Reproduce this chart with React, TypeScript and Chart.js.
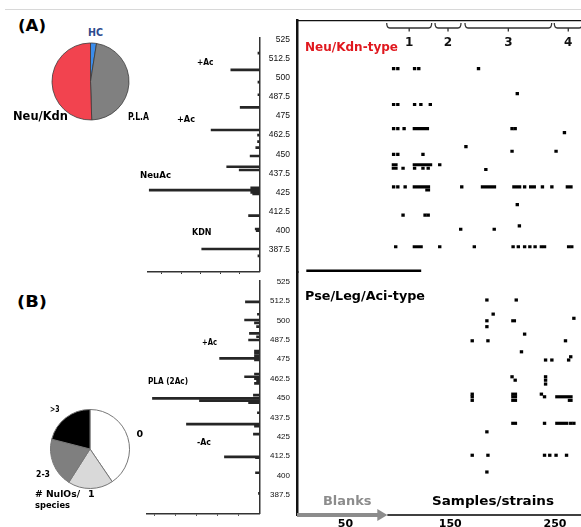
import React, { useEffect, useRef } from 'react';
import { Chart, registerables } from 'chart.js';
Chart.register(...registerables);

// ---------------- DATA ----------------
const pieALabels = ['HC', 'P.L.A', 'Neu/Kdn'];
const pieAValues = [2.5, 47, 50.5];
const pieAColors = ['#3B8DEB', '#808080', '#F2434F'];

const pieBLabels = ['0', '1', '2-3', '>3'];
const pieBValues = [40.5, 18.5, 20, 21];
const pieBColors = ['#FFFFFF', '#D9D9D9', '#7F7F7F', '#000000'];

const mzTicks = [387.5, 400, 412.5, 425, 437.5, 450, 462.5, 475, 487.5, 500, 512.5, 525];
const intensityTicks = [1, 2, 3, 4, 5];

// spectrum (A) Neu/Kdn-type: m/z and relative intensity
const specAMz = [516, 505, 497, 488.8, 480.6, 465.8, 462.5, 458.2, 454.3, 448.8, 441.8, 439.7, 428.1, 426.6, 425.1, 424.0, 409.9, 401.2, 400.1, 388.1, 383.6];
const specAVal = [0.08, 1.47, 0.08, 0.08, 0.99, 2.48, 0.1, 0.1, 0.19, 0.48, 1.68, 1.04, 0.45, 5.65, 0.45, 0.35, 0.56, 0.22, 0.17, 2.96, 0.08];

// spectrum (B) Pse/Leg/Aci-type
const specBMz = [512, 504, 500.3, 498.5, 496, 491.7, 489.5, 487.4, 480.3, 478.8, 477, 475.6, 474.5, 465.5, 463.7, 462.5, 461, 459.4, 451.9, 449.8, 448.3, 447, 440.5, 433.2, 431.9, 426.7, 412.1, 411.5, 401.8, 388.5];
const specBVal = [0.67, 0.1, 0.71, 0.24, 0.14, 0.48, 0.14, 0.52, 0.24, 0.24, 0.24, 1.9, 0.24, 0.24, 0.71, 0.24, 0.14, 0.24, 0.29, 5.1, 2.86, 0.52, 0.1, 3.48, 0.24, 0.29, 1.67, 0.19, 0.19, 0.05];

// heat map (A): per m/z row, detected samples (single sample or [first, last] run)
const neuRowMz = [505, 488.7, 481.6, 465.9, 463.3, 454.1, 451.1, 449.1, 442.3, 440.0, 439.2, 427.9, 425.8, 416.3, 409.4, 402.4, 400.2, 388.8];
const neuRowCells: (number | number[])[][] = [
  [96, 100, 116, 120, 177],
  [214],
  [96, 100, 116, 122, 131],
  [96, 100, 106, [115, 129], 209, 212],
  [259],
  [165],
  [209, 251],
  [96, 100, 124],
  [[95, 99], [115, 132], 140],
  [[95, 99], 105, 116, 124, 129],
  [184],
  [96, 100, 107, [115, 130], 161, [180, 193], [210, 217], 221, [226, 231], 238, 247, [261, 266]],
  [[127, 130]],
  [214],
  [105, 126, 129],
  [216],
  [160, 192],
  [98, [115, 123], 140, 173, 210, 215, 221, 226, 231, 237, 240, 263, 266],
];

// heat map (B)
const pseRowMz = [513.2, 504.1, 501.4, 499.8, 496.0, 491.2, 486.9, 479.8, 476.6, 474.5, 463.7, 461.5, 459.0, 452.5, 450.8, 448.5, 433.7, 428.2, 413.1, 402.3];
const pseRowCells: (number | number[])[][] = [
  [185, 213],
  [191],
  [268],
  [185, [209, 212]],
  [185],
  [221],
  [171, 186, 260],
  [218],
  [265],
  [241, 247, 263],
  [209, 241],
  [212, 241],
  [241],
  [171, [209, 213], 237],
  [171, [209, 213], 240, [251, 266]],
  [171, [209, 213], [263, 266]],
  [[209, 213], 240, [251, 262], 265, 268],
  [185],
  [171, 186, 240, 245, 251, 261],
  [185],
];

const groupNames = ['1', '2', '3', '4'];
const groupStart = [89.4, 135.5, 164.1, 249.3];
const groupEnd = [132.3, 160.3, 246.8, 276];

const sampleTicks = [50, 150, 250];
const blanksEnd = 90;
const separatorMz = 374.5;
const separatorRange = [13, 122];

// ---------------- HELPERS ----------------
const fixBox = (size: number) => (s: any) => {
  if (s.isHorizontal()) s.height = size; else s.width = size;
  s.paddingTop = 0; s.paddingBottom = 0; s.paddingLeft = 0; s.paddingRight = 0;
};

const baseOpts = {
  responsive: false,
  maintainAspectRatio: false,
  animation: false as const,
  devicePixelRatio: 1,
  events: [] as any[],
};

function pieConfig(labels: string[], values: number[], colors: string[], radius: number, borderColor: string, borderWidth: number): any {
  return {
    type: 'pie',
    data: { labels, datasets: [{ data: values, backgroundColor: colors, borderColor, borderWidth, hoverOffset: 0, offset: 0, radius }] },
    options: { ...baseOpts, layout: { padding: 0 }, plugins: { legend: { display: false }, tooltip: { enabled: false } } },
  };
}

function spectrumConfig(mz: number[], val: number[], yMin: number, yMax: number, xMax: number, fontSize: number, tickPad: number, pad: any, xBoxH: number): any {
  return {
    type: 'bar',
    data: { datasets: [{ data: mz.map((m, i) => ({ x: val[i], y: m })), backgroundColor: '#262626', barThickness: 2, borderWidth: 0 }] },
    options: {
      ...baseOpts,
      indexAxis: 'y',
      layout: { padding: pad },
      plugins: { legend: { display: false }, tooltip: { enabled: false } },
      scales: {
        x: {
          type: 'linear', reverse: true, min: 0, max: xMax, position: 'bottom', offset: false,
          afterBuildTicks: (s: any) => { s.ticks = intensityTicks.map((v) => ({ value: v })); },
          ticks: { display: false },
          grid: { display: true, drawOnChartArea: false, drawTicks: true, tickLength: 2.5, color: '#333', lineWidth: 1, offset: false },
          border: { display: true, color: '#333', width: 1.5 },
          afterFit: fixBox(xBoxH),
        },
        y: {
          type: 'linear', position: 'right', min: yMin, max: yMax, offset: false,
          afterBuildTicks: (s: any) => { s.ticks = mzTicks.map((v) => ({ value: v })); },
          ticks: { font: { family: 'Liberation Sans', size: fontSize }, color: '#111', padding: tickPad, crossAlign: 'far', autoSkip: false, callback: (v: any) => String(v) },
          grid: { display: false, drawTicks: false, offset: false },
          border: { display: true, color: '#333', width: 1.5 },
          afterFit: fixBox(30.5),
        },
      },
    },
  };
}

function cellsToBars(rowMz: number[], rowCells: (number | number[])[][]) {
  const out: any[] = [];
  rowMz.forEach((mz, i) => rowCells[i].forEach((c) => {
    const r = Array.isArray(c) ? [c[0] - 0.5, c[1] + 0.5] : [c - 1.3, c + 1.3];
    out.push({ x: r, y: mz });
  }));
  return out;
}

const bracketPlugin = {
  id: 'brackets',
  afterDraw(chart: any) {
    const { ctx, chartArea, scales } = chart;
    const x = scales.x;
    const top = chartArea.top;
    const yTop = top + 2.5, yLine = top + 7.5, yTick = top + 11, yLab = top + 22.5;
    ctx.save();
    ctx.strokeStyle = '#333';
    ctx.lineWidth = 1.3;
    groupNames.forEach((name, i) => {
      const x1 = x.getPixelForValue(groupStart[i]);
      const x2 = x.getPixelForValue(groupEnd[i]);
      const xm = (x1 + x2) / 2;
      ctx.beginPath();
      ctx.moveTo(x1, yTop);
      ctx.quadraticCurveTo(x1, yLine, x1 + 3, yLine);
      ctx.lineTo(x2 - 3, yLine);
      ctx.quadraticCurveTo(x2, yLine, x2, yTop);
      ctx.moveTo(xm, yLine);
      ctx.lineTo(xm, yTick);
      ctx.stroke();
      ctx.fillStyle = '#111';
      ctx.font = 'bold 12px "DejaVu Sans"';
      ctx.textAlign = 'center';
      ctx.textBaseline = 'middle';
      ctx.fillText(name, xm, yLab);
    });
    ctx.restore();
  },
};

const arrowPlugin = {
  id: 'blanksArrow',
  afterDraw(chart: any) {
    const { ctx, chartArea, scales } = chart;
    const x = scales.x;
    const yb = chartArea.bottom;
    const xL = chartArea.left;
    const xE = x.getPixelForValue(blanksEnd);
    ctx.save();
    ctx.fillStyle = '#8C8C8C';
    ctx.fillRect(xL, yb - 2, xE - 9 - xL, 4);
    ctx.beginPath();
    ctx.moveTo(xE - 10, yb - 6);
    ctx.lineTo(xE, yb);
    ctx.lineTo(xE - 10, yb + 6);
    ctx.closePath();
    ctx.fill();
    ctx.strokeStyle = '#000';
    ctx.lineWidth = 1.5;
    ctx.beginPath();
    ctx.moveTo(xE, yb);
    ctx.lineTo(chartArea.right, yb);
    ctx.stroke();
    ctx.restore();
  },
};

function heatConfig(datasets: any[], yMin: number, yMax: number, pad: any, xAxis: any, plugins: any[]): any {
  return {
    type: 'bar',
    data: { datasets },
    options: {
      ...baseOpts,
      indexAxis: 'y',
      layout: { padding: pad },
      plugins: { legend: { display: false }, tooltip: { enabled: false } },
      scales: {
        x: { type: 'linear', min: 3.8, max: 274.8, offset: false, ...xAxis },
        y: {
          type: 'linear', position: 'left', min: yMin, max: yMax, offset: false,
          ticks: { display: false }, grid: { display: false, drawTicks: false },
          border: { display: true, color: '#111', width: 2.5 },
          afterFit: fixBox(0),
        },
      },
    },
    plugins,
  };
}

// ---------------- LABELS ----------------
const measureCtx = typeof document !== 'undefined' ? document.createElement('canvas').getContext('2d') : null;

function Label({ t, x, y, size, w, color = '#000' }: { t: string; x: number; y: number; size: number; w?: number; color?: string }) {
  const font = `bold ${size}px "DejaVu Sans"`;
  let sx = 1;
  if (w && measureCtx) {
    measureCtx.font = font;
    const m = measureCtx.measureText(t).width;
    if (m > 0) sx = w / m;
  }
  return (
    <div style={{ position: 'absolute', left: x, top: y, transform: `translateY(-50%) scaleX(${sx})`, transformOrigin: 'left center', font, lineHeight: 1, color, whiteSpace: 'nowrap' }}>{t}</div>
  );
}

const labels = [
  { t: '(A)', x: 18, y: 26, size: 16, w: 28 },
  { t: 'HC', x: 88, y: 33, size: 10, w: 15, color: '#2D4B8E' },
  { t: 'Neu/Kdn', x: 13, y: 117, size: 11.5, w: 55 },
  { t: 'P.L.A', x: 128, y: 117, size: 10, w: 21 },
  { t: '+Ac', x: 196.5, y: 62, size: 9, w: 16.5 },
  { t: '+Ac', x: 177, y: 119, size: 9, w: 18 },
  { t: 'NeuAc', x: 140, y: 175, size: 9, w: 31 },
  { t: 'KDN', x: 191.5, y: 232, size: 9, w: 19.5 },
  { t: 'Neu/Kdn-type', x: 305, y: 47, size: 12, w: 93, color: '#E0181E' },
  { t: '(B)', x: 17, y: 301.5, size: 16, w: 30 },
  { t: '+Ac', x: 201.5, y: 341.5, size: 9, w: 15 },
  { t: 'PLA (2Ac)', x: 148, y: 380.5, size: 9, w: 40 },
  { t: '-Ac', x: 196.5, y: 441.5, size: 9, w: 14 },
  { t: '>3', x: 50, y: 408.5, size: 9.5, w: 9.5 },
  { t: '0', x: 136.5, y: 434, size: 9.5 },
  { t: '2-3', x: 36, y: 473.5, size: 9.5, w: 14 },
  { t: '# NulOs/', x: 35, y: 493.5, size: 9.5, w: 45 },
  { t: '1', x: 88, y: 493.5, size: 9.5 },
  { t: 'species', x: 35, y: 504.5, size: 9.5, w: 35 },
  { t: 'Pse/Leg/Aci-type', x: 305, y: 296, size: 12, w: 120 },
  { t: 'Blanks', x: 323, y: 500, size: 13, w: 48.5, color: '#8C8C8C' },
  { t: 'Samples/strains', x: 431.5, y: 500, size: 13, w: 122 },
];

// ---------------- APP ----------------
export default function App() {
  const pieARef = useRef<HTMLCanvasElement>(null);
  const pieBRef = useRef<HTMLCanvasElement>(null);
  const specARef = useRef<HTMLCanvasElement>(null);
  const specBRef = useRef<HTMLCanvasElement>(null);
  const heatARef = useRef<HTMLCanvasElement>(null);
  const heatBRef = useRef<HTMLCanvasElement>(null);

  useEffect(() => {
    const charts: Chart[] = [];
    charts.push(new Chart(pieARef.current!, pieConfig(pieALabels, pieAValues, pieAColors, 38.5, '#3a3a3a', 0.8)));
    charts.push(new Chart(pieBRef.current!, pieConfig(pieBLabels, pieBValues, pieBColors, 39.5, '#777777', 1)));

    // panel A mapping: 525 at y=39.3, 1.532 px per unit
    charts.push(new Chart(specARef.current!, spectrumConfig(specAMz, specAVal, 373.43, 525.85, 5.74, 8.5, 8.2, { left: 7.5, top: 8, right: 0, bottom: 0 }, 4.5)));
    // panel B mapping: 525 at y=281.7, 1.551 px per unit
    charts.push(new Chart(specBRef.current!, spectrumConfig(specBMz, specBVal, 375.68, 525.45, 5.36, 8, 7, { left: 7, top: 5, right: 0, bottom: 0 }, 3.7)));

    const heatADatasets = [
      { data: cellsToBars(neuRowMz, neuRowCells), backgroundColor: '#000', barThickness: 2.5, borderWidth: 0 },
      { data: [{ x: separatorRange, y: separatorMz }], backgroundColor: '#000', barThickness: 2.2, borderWidth: 0 },
    ];
    charts.push(new Chart(heatARef.current!, heatConfig(heatADatasets, 373.11, 537.27, { left: 7, top: 6.5, right: 0, bottom: 4 }, {
      position: 'top',
      ticks: { display: false },
      grid: { display: false, drawTicks: false },
      border: { display: true, color: '#111', width: 1.3 },
      afterFit: fixBox(0),
    }, [bracketPlugin])));

    const heatBDatasets = [
      { data: cellsToBars(pseRowMz, pseRowCells), backgroundColor: '#000', barThickness: 2.5, borderWidth: 0 },
    ];
    charts.push(new Chart(heatBRef.current!, heatConfig(heatBDatasets, 374.58, 531.25, { left: 7, top: 4, right: 0, bottom: 0 }, {
      position: 'bottom',
      afterBuildTicks: (s: any) => { s.ticks = sampleTicks.map((v) => ({ value: v })); },
      ticks: { font: { family: 'DejaVu Sans', size: 11, weight: 'bold' }, color: '#000', padding: 3, maxRotation: 0, autoSkip: false },
      grid: { display: false, drawTicks: false },
      border: { display: false },
      afterFit: fixBox(12),
    }, [arrowPlugin])));

    return () => charts.forEach((c) => c.destroy());
  }, []);

  const abs = (l: number, t: number): React.CSSProperties => ({ position: 'absolute', left: l, top: t });

  return (
    <div style={{ position: 'absolute', left: 0, top: 0, width: 581, height: 527, background: '#fff', overflow: 'hidden' }}>
      <div style={{ position: 'absolute', left: 5, top: 9, width: 576, height: 1, background: '#d8d8d8' }} />
      <canvas ref={pieARef} width={81} height={81} style={abs(50, 41)} />
      <canvas ref={pieBRef} width={82} height={82} style={abs(49, 408)} />
      <canvas ref={specARef} width={150} height={246} style={abs(140, 30)} />
      <canvas ref={specBRef} width={150} height={241} style={abs(140, 276)} />
      <canvas ref={heatARef} width={291} height={262} style={abs(290, 14)} />
      <canvas ref={heatBRef} width={291} height={259} style={abs(290, 268)} />
      {labels.map((l, i) => <Label key={i} {...l} />)}
    </div>
  );
}
